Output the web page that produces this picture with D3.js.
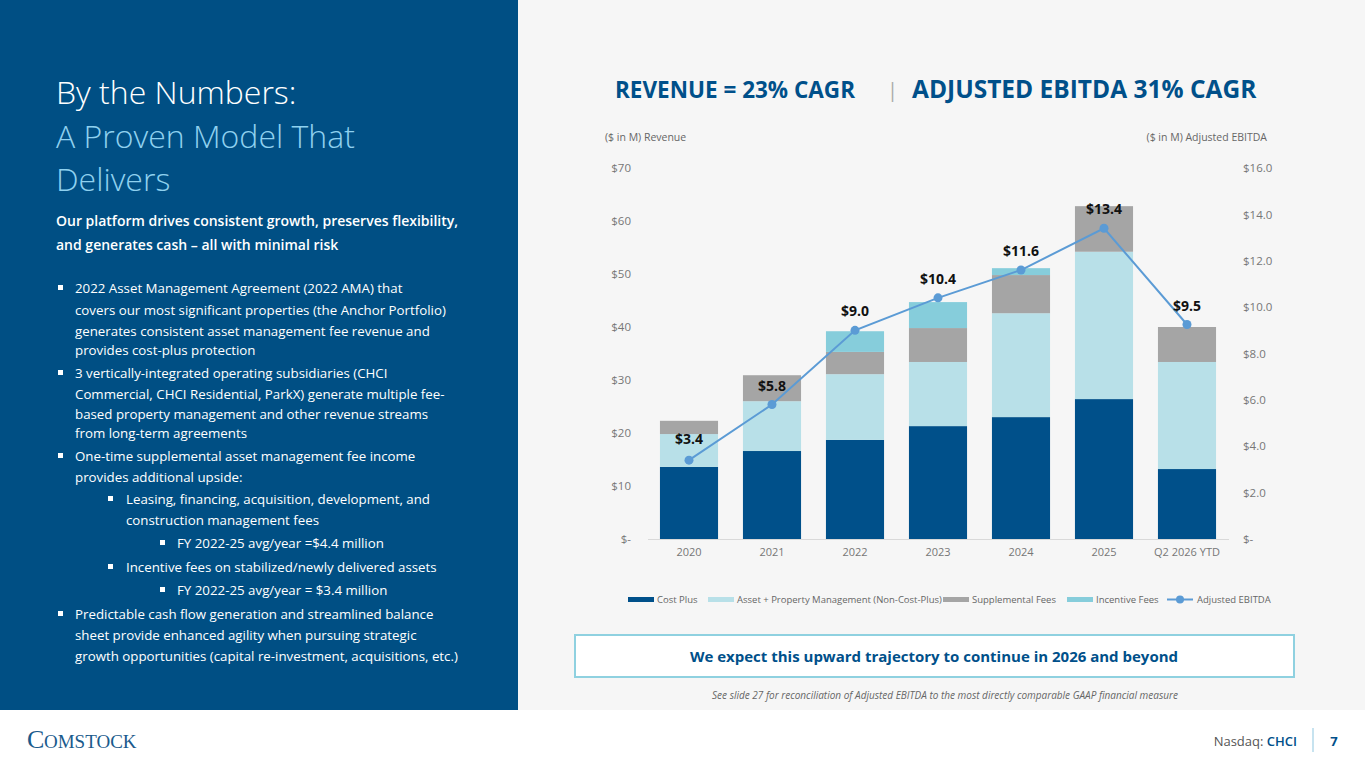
<!DOCTYPE html>
<html><head><meta charset="utf-8">
<script src="https://cdn.jsdelivr.net/npm/d3@7"></script>
<style>
body{margin:0;font-family:"Open Sans",Lato,sans-serif;}
svg text{font-family:"Open Sans",Lato,sans-serif;}
</style></head>
<body><div id="chart"></div>
<script>
const years = ["2020","2021","2022","2023","2024","2025","Q2 2026 YTD"];
const costPlus = [13.6,16.6,18.7,21.3,23.0,26.4,13.2];
const assetMgmt = [6.2,9.4,12.4,12.1,19.6,27.8,20.2];
const supplemental = [2.5,4.9,4.2,6.4,7.2,8.6,6.6];
const incentive = [0,0,3.9,4.9,1.3,0,0];
const ebitda = [3.4,5.8,9.0,10.4,11.6,13.4,9.25];
const ebitdaLabels = ["$3.4","$5.8","$9.0","$10.4","$11.6","$13.4","$9.5"];
const leftTicks = [0,10,20,30,40,50,60,70];
const rightTicks = [0,2,4,6,8,10,12,14,16];
const seriesNames = ["Cost Plus","Asset + Property Management (Non-Cost-Plus)","Supplemental Fees","Incentive Fees"];
const colors = ["#00508a","#b8e0e8","#a5a5a5","#86cddb"];
const lineColor = "#5b9bd5";

const width = 1365, height = 768;
const svg = d3.select("#chart").append("svg").attr("width",width).attr("height",height);

// backgrounds
svg.append("rect").attr("width",width).attr("height",height).attr("fill","#fff");
svg.append("rect").attr("x",518).attr("width",width-518).attr("height",710).attr("fill","#f6f6f6");
svg.append("rect").attr("width",518).attr("height",710).attr("fill","#004f84");

// left panel text
const lt = svg.append("g");
[["By the Numbers:","#fff",104],["A Proven Model That","#8fd1ef",148],["Delivers","#8fd1ef",191]].forEach(function(d){
    lt.append("text").attr("x",56).attr("y",d[2]).attr("fill",d[1]).attr("font-size",32).attr("font-weight",300).text(d[0]);
});
lt.append("text").attr("x",56).attr("y",226).attr("fill","#fff").attr("font-size",14).attr("font-weight",600).text("Our platform drives consistent growth, preserves flexibility,");
lt.append("text").attr("x",56).attr("y",250).attr("fill","#fff").attr("font-size",14).attr("font-weight",600).text("and generates cash – all with minimal risk");
const bullets = [
 [0,293,"2022 Asset Management Agreement (2022 AMA) that",true],
 [0,315,"covers our most significant properties (the Anchor Portfolio)"],
 [0,336,"generates consistent asset management fee revenue and"],
 [0,355,"provides cost-plus protection"],
 [0,378,"3 vertically-integrated operating subsidiaries (CHCI",true],
 [0,399,"Commercial, CHCI Residential, ParkX) generate multiple fee-"],
 [0,419,"based property management and other revenue streams"],
 [0,438,"from long-term agreements"],
 [0,461,"One-time supplemental asset management fee income",true],
 [0,482,"provides additional upside:"],
 [1,504,"Leasing, financing, acquisition, development, and",true],
 [1,525,"construction management fees"],
 [2,548,"FY 2022-25 avg/year =$4.4 million",true],
 [1,572,"Incentive fees on stabilized/newly delivered assets",true],
 [2,595,"FY 2022-25 avg/year = $3.4 million",true],
 [0,619,"Predictable cash flow generation and streamlined balance",true],
 [0,640,"sheet provide enhanced agility when pursuing strategic"],
 [0,661,"growth opportunities (capital re-investment, acquisitions, etc.)"]
];
const indents = [[58,75],[108,126],[160,177]];
bullets.forEach(function(b){
    const ind = indents[b[0]];
    if(b[3]) lt.append("rect").attr("x",ind[0]).attr("y",b[1]-8).attr("width",5).attr("height",5).attr("fill","#fff");
    lt.append("text").attr("x",ind[1]).attr("y",b[1]).attr("fill","#fff").attr("font-size",13.3).text(b[2]);
});

// title
svg.append("text").attr("x",615).attr("y",98).attr("fill","#00508a").attr("font-size",22.5).attr("font-weight",700).text("REVENUE = 23% CAGR");
svg.append("text").attr("x",887).attr("y",97).attr("fill","#aaa").attr("font-size",20).text("|");
svg.append("text").attr("x",912).attr("y",98).attr("fill","#00508a").attr("font-size",24.5).attr("font-weight",700).text("ADJUSTED EBITDA 31% CAGR");
svg.append("text").attr("x",605).attr("y",141).attr("fill","#666").attr("font-size",10.5).text("($ in M) Revenue");
svg.append("text").attr("x",1267).attr("y",141).attr("text-anchor","end").attr("fill","#666").attr("font-size",10.5).text("($ in M) Adjusted EBITDA");

// scales
const x = d3.scaleBand().domain(years).range([647.5,1228.5]).paddingInner(0.3).paddingOuter(0.15);
const yL = d3.scaleLinear().domain([0,70]).range([539,168]);
const yR = d3.scaleLinear().domain([0,16]).range([539,168]);

// axes
const fmtL = function(d){ return d===0 ? "$-" : "$"+d; };
const fmtR = function(d){ return d===0 ? "$-" : "$"+d.toFixed(1); };
const axL = svg.append("g").attr("transform","translate(634,0)").call(d3.axisLeft(yL).tickValues(leftTicks).tickFormat(fmtL).tickSize(0));
const axR = svg.append("g").attr("transform","translate(1240,0)").call(d3.axisRight(yR).tickValues(rightTicks).tickFormat(fmtR).tickSize(0));
[axL,axR].forEach(function(a){ a.select(".domain").remove(); a.selectAll("text").attr("fill","#777").attr("font-size",11.5); });
const axB = svg.append("g").attr("transform","translate(0,539)").call(d3.axisBottom(x).tickSize(0).tickPadding(9));
axB.select(".domain").attr("stroke","#d9d9d9");
axB.selectAll("text").attr("fill","#777").attr("font-size",11);

// stacked bars
const rows = years.map(function(y,i){ return {year:y, s0:costPlus[i], s1:assetMgmt[i], s2:supplemental[i], s3:incentive[i]}; });
const stack = d3.stack().keys(["s0","s1","s2","s3"])(rows);
svg.append("g").selectAll("g").data(stack).enter().append("g")
    .attr("fill",function(d,i){ return colors[i]; })
    .selectAll("rect").data(function(d){ return d; }).enter().append("rect")
    .attr("x",function(d){ return x(d.data.year); })
    .attr("y",function(d){ return yL(d[1]); })
    .attr("width",x.bandwidth())
    .attr("height",function(d){ return yL(d[0])-yL(d[1]); });

// EBITDA line
const cx = function(i){ return x(years[i])+x.bandwidth()/2; };
svg.append("path").datum(ebitda)
    .attr("d",d3.line().x(function(d,i){ return cx(i); }).y(function(d){ return yR(d); }))
    .attr("fill","none").attr("stroke",lineColor).attr("stroke-width",2);
svg.selectAll(".dot").data(ebitda).enter().append("circle")
    .attr("cx",function(d,i){ return cx(i); }).attr("cy",function(d){ return yR(d); })
    .attr("r",4.5).attr("fill",lineColor);
svg.selectAll(".lbl").data(ebitda).enter().append("text")
    .attr("x",function(d,i){ return cx(i); }).attr("y",function(d){ return yR(d)-14; })
    .attr("text-anchor","middle").attr("font-size",14).attr("font-weight",700).attr("fill","#111")
    .text(function(d,i){ return ebitdaLabels[i]; });
svg.selectAll("text").filter(function(){ return this.textContent==="$3.4"; }).attr("y",yR(ebitda[0])-16);

// legend
const legItems = [[628,"Cost Plus",0],[708,"Asset + Property Management (Non-Cost-Plus)",1],[943,"Supplemental Fees",2],[1067,"Incentive Fees",3]];
legItems.forEach(function(l){
    svg.append("rect").attr("x",l[0]).attr("y",597).attr("width",26).attr("height",5).attr("fill",colors[l[2]]);
    svg.append("text").attr("x",l[0]+29).attr("y",603).attr("font-size",9.5).attr("fill","#666").text(l[1]);
});
svg.append("line").attr("x1",1167).attr("x2",1193).attr("y1",599.5).attr("y2",599.5).attr("stroke",lineColor).attr("stroke-width",2);
svg.append("circle").attr("cx",1180).attr("cy",599.5).attr("r",4).attr("fill",lineColor);
svg.append("text").attr("x",1197).attr("y",603).attr("font-size",9.5).attr("fill","#666").text("Adjusted EBITDA");

// callout box
svg.append("rect").attr("x",575).attr("y",635).attr("width",719).attr("height",42).attr("fill","#fff").attr("stroke","#8fd1e0").attr("stroke-width",2);
svg.append("text").attr("x",934).attr("y",662).attr("text-anchor","middle").attr("font-size",15).attr("font-weight",700).attr("fill","#00508a").text("We expect this upward trajectory to continue in 2026 and beyond");
svg.append("text").attr("x",945).attr("y",699).attr("text-anchor","middle").attr("font-size",10).attr("font-style","italic").attr("fill","#666").text("See slide 27 for reconciliation of Adjusted EBITDA to the most directly comparable GAAP financial measure");

// footer
svg.append("text").attr("x",27).attr("y",748).style("font-family","Liberation Serif, serif").attr("font-size",26).attr("fill","#1a5a8c").text("C");
svg.append("text").attr("x",44).attr("y",748).style("font-family","Liberation Serif, serif").attr("font-size",19).attr("fill","#1a5a8c").text("OMSTOCK");
svg.append("text").attr("x",1297).attr("y",746).attr("text-anchor","end").attr("font-size",13).attr("fill","#555").text("Nasdaq: ").append("tspan").attr("fill","#00508a").attr("font-weight",600).text("CHCI");
svg.append("line").attr("x1",1313).attr("x2",1313).attr("y1",728).attr("y2",752).attr("stroke","#8fc7e0");
svg.append("text").attr("x",1334).attr("y",746).attr("text-anchor","middle").attr("font-size",13).attr("font-weight",700).attr("fill","#00508a").text("7");
</script></body></html>
